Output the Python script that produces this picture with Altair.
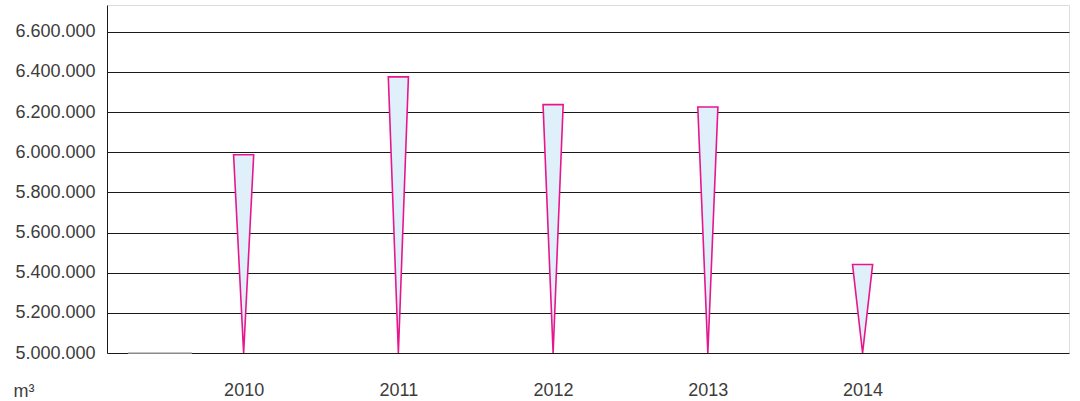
import altair as alt
import pandas as pd

# Annual volumes (m³)
years = [2010, 2011, 2012, 2013, 2014]
volumes = [5987000, 6375000, 6237000, 6225000, 5441000]
y_ticks = [5000000, 5200000, 5400000, 5600000, 5800000, 6000000, 6200000, 6400000, 6600000]

BASE = 5000000
HALF_W = 0.065  # half-width of each wedge top, in year units

# Each wedge is a horizontal area: wide at the value, narrowing to a point at the base
rows = []
for yr, v in zip(years, volumes):
    rows.append({"year": yr, "lvl": v, "left": yr - HALF_W, "right": yr + HALF_W})
    rows.append({"year": yr, "lvl": BASE, "left": yr, "right": yr})
wedges = pd.DataFrame(rows)

x_scale = alt.Scale(domain=[2009.117, 2015.334], nice=False, zero=False)
y_scale = alt.Scale(domain=[BASE, 6733000], nice=False, zero=False)

FONT = "Liberation Sans"
num_fmt = "replace(format(datum.value, ','), regexp(',', 'g'), '.')"

wedge_layer = alt.Chart(wedges).mark_area(
    orient="horizontal",
    fill="#dff0fb",
    stroke="#e8168d",
    strokeWidth=1.6,
    strokeJoin="miter",
).encode(
    y=alt.Y(
        "lvl:Q",
        scale=y_scale,
        axis=alt.Axis(
            values=y_ticks,
            labelExpr=num_fmt,
            grid=True,
            gridColor="#1a1a1a",
            gridWidth=1,
            ticks=False,
            domain=True,
            domainColor="#1a1a1a",
            domainWidth=1,
            labelFont=FONT,
            labelFontSize=18,
            labelColor="#3c3c3c",
            labelPadding=12,
            title=None,
        ),
    ),
    x=alt.X(
        "left:Q",
        scale=x_scale,
        axis=alt.Axis(
            values=years,
            format="d",
            grid=False,
            ticks=False,
            domain=False,
            labelFont=FONT,
            labelFontSize=18,
            labelColor="#3c3c3c",
            labelPadding=28,
            title="m³",
            titleFont=FONT,
            titleFontSize=18,
            titleFontWeight="normal",
            titleColor="#3c3c3c",
            titleX=-94,
            titleY=43,
            titleAlign="left",
            titleBaseline="alphabetic",
        ),
    ),
    x2="right:Q",
    detail="year:O",
)

# Short grey stub on the baseline at the left
stub = alt.Chart(pd.DataFrame({"lvl": [BASE]})).mark_rule(
    color="#b0b0b0", strokeWidth=1.5
).encode(
    y=alt.Y("lvl:Q", scale=y_scale),
    x=alt.value(21),
    x2=alt.value(85),
)

chart = alt.layer(wedge_layer, stub).properties(
    width=962,
    height=348,
    autosize=alt.AutoSizeParams(type="none"),
    padding={"left": 107, "top": 5, "right": 11, "bottom": 48},
).configure_view(stroke=None).configure(background="white")

chart.save("out.html", embed_options={"renderer": "svg", "actions": False})
